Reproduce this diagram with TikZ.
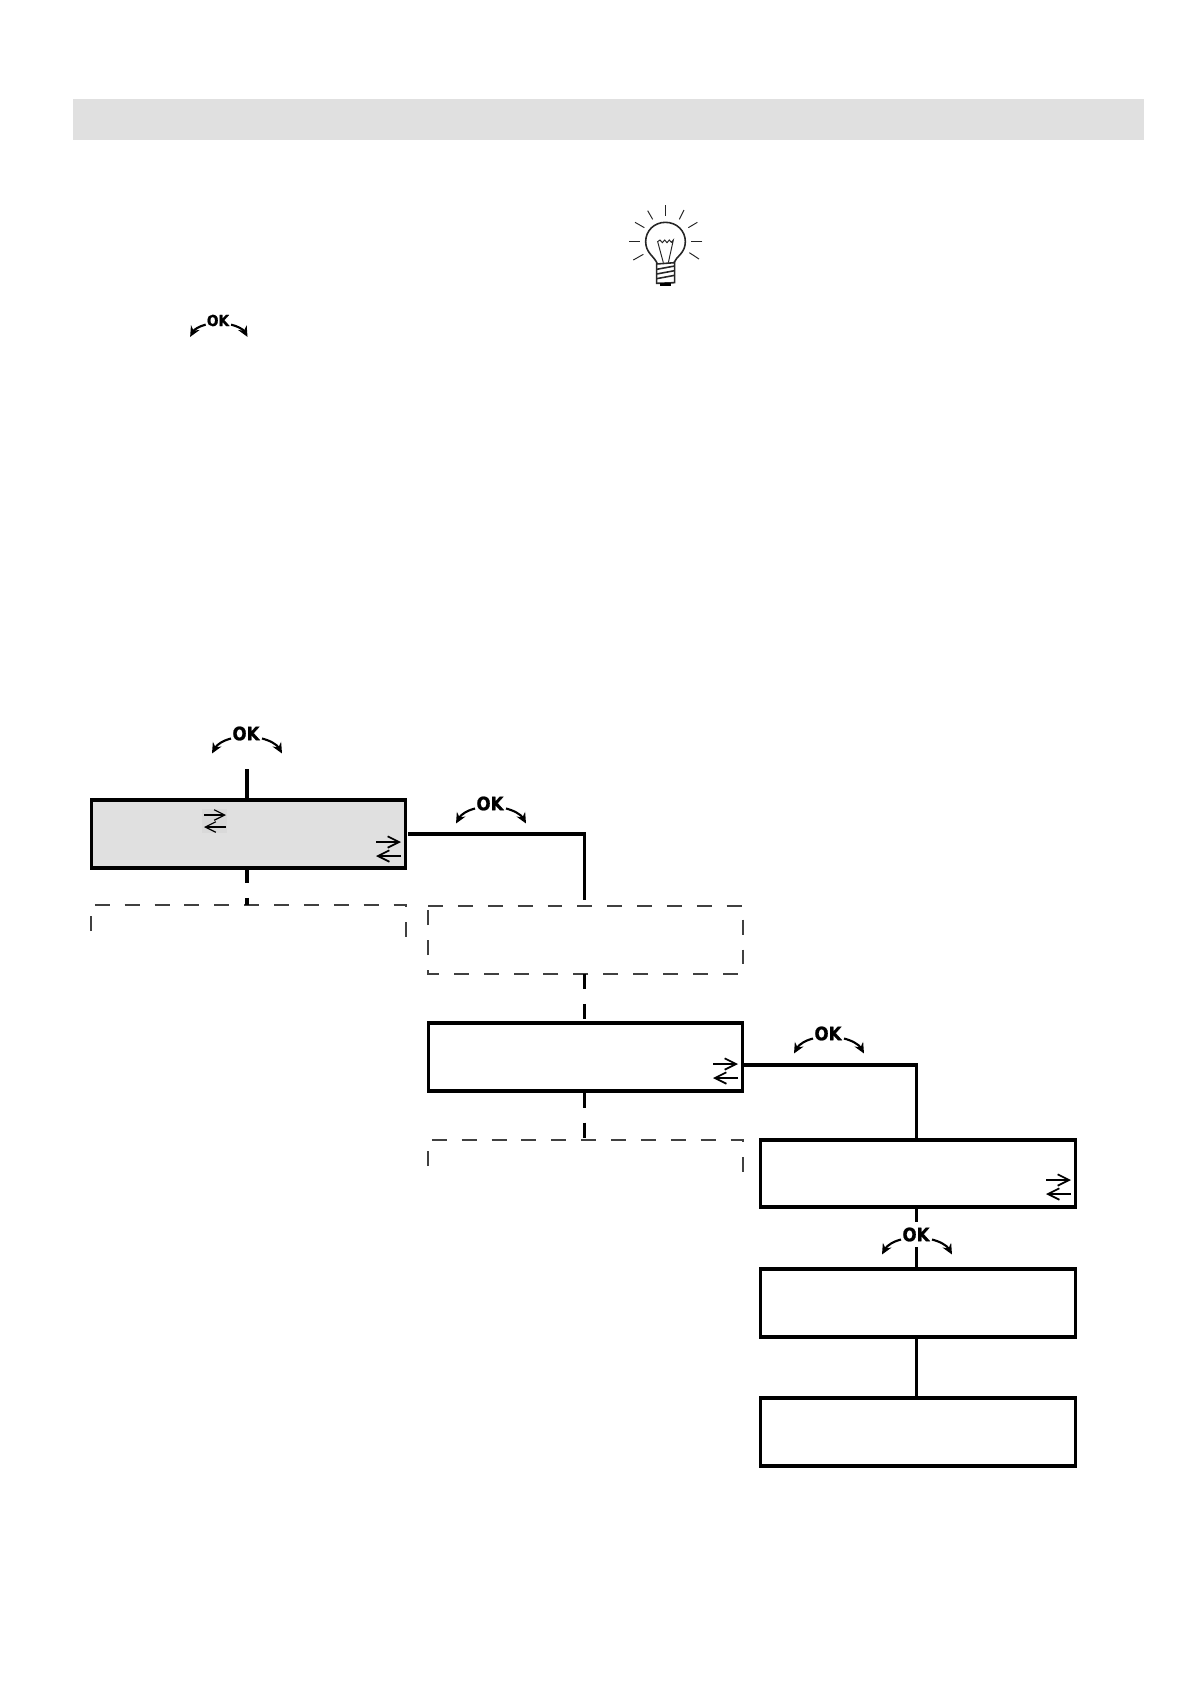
\documentclass[tikz,border=0pt]{standalone}
\usepackage{fontspec}
\usetikzlibrary{arrows.meta,calc}
\newfontfamily\okfont[BoldFeatures={FakeBold=1.2}]{DejaVu Sans}
\definecolor{panelgray}{HTML}{E0E0E0}
\definecolor{patchgray}{HTML}{D9D9D9}
\definecolor{dashgray}{HTML}{404040}
\tikzset{
    menubox/.style={draw=black, line width=1.75pt, minimum width=6.29cm, minimum height=1.36cm, inner sep=0pt, outer sep=0pt},
    ghostbox/.style={minimum width=6.3cm, minimum height=1.36cm, inner sep=0pt, outer sep=0pt},
    link/.style={black, line width=1.75pt},
    dashlink/.style={black, line width=1.75pt, dash pattern=on 8.5pt off 8.5pt},
    ghostline/.style={dashgray, line width=0.75pt, dash pattern=on 8.5pt off 8.5pt},
    okarrow/.style={black, line width=1.2pt, -{Stealth[length=6pt,width=5.5pt]}},
    swaparrow/.style={black, line width=1pt, -{Straight Barb[length=6.5pt,width=6.5pt,line width=1pt]}},
    swapthin/.style={black, line width=0.65pt, -{Straight Barb[length=6pt,width=6pt,line width=0.65pt]}},
    bulbline/.style={black!85, line width=0.55pt}
}
\begin{document}
\begin{tikzpicture}[x=0.02cm, y=-0.02cm]

\useasboundingbox (0,0) rectangle (1190,1684);

%% Horný pruh
\node[fill=panelgray, minimum width=21.42cm, minimum height=0.82cm, inner sep=0pt] (band) at (608.5,119.5) {};

%% Menu boxy
\node[menubox, fill=panelgray] (boxA) at (248.5,834) {};
\node[ghostbox] (boxB) at (585.5,940) {};
\node[menubox] (boxC) at (585.5,1057) {};
\node[menubox, minimum height=1.34cm] (boxD) at (918,1173.5) {};
\node[menubox] (boxE) at (918,1303) {};
\node[menubox] (boxF) at (918,1432) {};

%% Pomocné body pre spojnice
\coordinate (tapA) at (247,834);
\coordinate (tapC) at (584.5,1057);
\coordinate (tapD) at (916.5,1173);
\coordinate (startA) at (247,769);
\coordinate (topA) at (247,905);
\coordinate (topC) at (584.5,1140);
\coordinate (exitC) at (743,1065);
\coordinate (okgapHi) at (916.5,1222);
\coordinate (okgapLo) at (916.5,1247);

%% Čiarkovaný box a neúplné rámiky
\draw[ghostline] (boxB.north west) -- (boxB.north east) -- (boxB.south east) -- (boxB.south west) -- cycle;
\draw[ghostline] (91,931) -- (91,905) -- (406,905) -- (406,939);
\draw[ghostline] (428,1166) -- (428,1140) -- (743,1140) -- (743,1175);

%% Spojnice
\draw[link, shorten <=1.5pt] (boxA.east) -| (tapC |- 0,900);
\draw[link] (startA) -- (tapA |- boxA.north);
\draw[dashlink] (tapA |- boxA.south) -- (topA);
\draw[dashlink] (tapC |- boxB.south) -- (tapC |- boxC.north);
\draw[dashlink, shorten <=1pt] (tapC |- boxC.south) -- (topC);
\draw[link] (exitC) -| (tapD |- boxD.north);
\draw[link] (tapD |- boxD.south) -- (okgapHi);
\draw[link] (okgapLo) -- (tapD |- boxE.north);
\draw[link] (tapD |- boxE.south) -- (tapD |- boxF.north);

%% Značky OK
\foreach \mk/\ox/\oy/\sz in {a/218/320.5/0.82, b/246/733.5/1, c/490/803.5/1, d/828/1033.5/1, e/916/1234.5/1} {
    \begin{scope}[shift={(\ox,\oy)}, scale=\sz]
        \node[font=\okfont\bfseries\fontsize{10.5}{12}\selectfont, inner sep=0pt, scale=\sz, xscale=0.9] (ok\mk) at (0,0) {OK};
        \draw[okarrow] (-15,5) .. controls (-23,7) and (-29,11) .. (-34,20);
        \draw[okarrow] (16,5) .. controls (24,7) and (31,11) .. (36,20);
    \end{scope}
}

%% Dvojice šípok
\fill[patchgray] (202,809) rectangle (227,833);
\draw[swapthin] (204,815) -- (226,815);
\draw[swapthin] (226,827) -- (204,827);
\foreach \ax/\ay in {376/842, 713/1064, 1046/1180} {
    \draw[swaparrow] (\ax,\ay) -- ++(25,0);
    \draw[swaparrow] (\ax+25,\ay+14) -- ++(-25,0);
}

%% Žiarovka
\begin{scope}[shift={(600,190)}, x=0.00667cm, y=-0.00667cm]
    \foreach \xa/\ya/\xb/\yb in {197/45/197/78, 143/62/158/88, 105/97/133/113, 87/153/120/153, 100/210/130/193,
        252/60/238/88, 292/97/265/113, 307/153/273/153, 297/207/268/188} {
        \draw[bulbline] (\xa,\ya) -- (\xb,\yb);
    }
    \draw[bulbline, line width=0.9pt] (172,222) .. controls (165,200) and (137,190) .. (137,155)
        .. controls (137,122) and (163,97) .. (196,97)
        .. controls (230,97) and (256,122) .. (256,155)
        .. controls (256,190) and (228,200) .. (222,218);
    \draw[bulbline] (190,218) -- (173,155) -- (180,150) -- (187,158) -- (194,150) -- (201,158) -- (208,150) -- (214,157) -- (220,150) -- (205,218);
    \draw[bulbline, line width=0.9pt] (170,222) -- (224,218) -- (224,278) -- (170,280) -- cycle;
    \foreach \ty in {238,252,266} {
        \draw[bulbline, line width=0.9pt] (170,\ty) -- (224,\ty-10);
    }
    \fill[black] (180,280) rectangle (214,288);
\end{scope}

\end{tikzpicture}
\end{document}
